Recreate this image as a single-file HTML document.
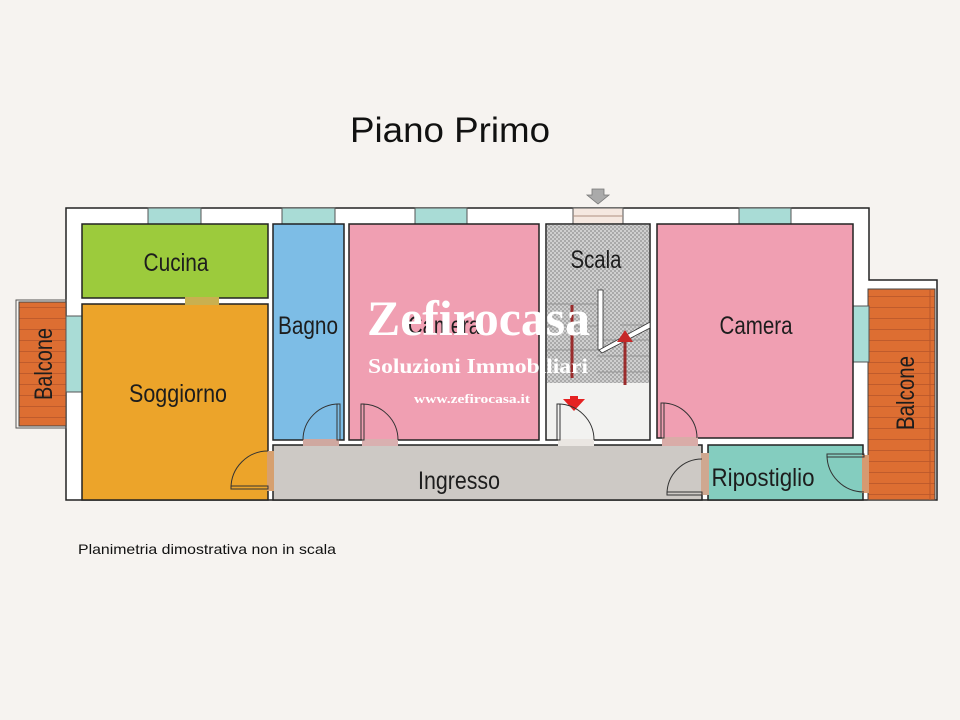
<!DOCTYPE html>
<html><head><meta charset="utf-8"><style>
html,body{margin:0;padding:0;background:#f6f3f0;}
svg{display:block}
</style></head><body>
<svg width="960" height="720" viewBox="0 0 960 720" xmlns="http://www.w3.org/2000/svg" font-family="Liberation Sans, sans-serif">
<defs>
<pattern id="chk" width="4" height="4" patternUnits="userSpaceOnUse">
<rect width="4" height="4" fill="#cfcfcf"/><rect width="2" height="2" fill="#a9a9a9"/><rect x="2" y="2" width="2" height="2" fill="#a9a9a9"/>
</pattern>
<pattern id="planks" width="10" height="11" patternUnits="userSpaceOnUse">
<rect width="10" height="11" fill="#dd6e32"/><line x1="0" y1="10.5" x2="10" y2="10.5" stroke="#b8562a" stroke-width="0.8"/>
</pattern>
</defs>
<rect width="960" height="720" fill="#f6f3f0"/>
<text x="350" y="142" font-size="35" fill="#111" textLength="200" lengthAdjust="spacingAndGlyphs">Piano Primo</text>

<path d="M66 208 H869 V280 H937 V500 H66 Z" fill="#fff" stroke="#222" stroke-width="1.5"/>
<rect x="16" y="300" width="50" height="128" fill="none" stroke="#555" stroke-width="1"/>
<rect x="19" y="302" width="47" height="124" fill="url(#planks)" stroke="#444" stroke-width="1"/>
<rect x="868" y="289" width="67" height="211" fill="url(#planks)" stroke="#444" stroke-width="1"/>
<line x1="930" y1="290" x2="930" y2="500" stroke="#b8562a"/>

<g fill="#a9dcd6" stroke="#555" stroke-width="1">
<rect x="148" y="208" width="53" height="16"/>
<rect x="282" y="208" width="53" height="16"/>
<rect x="415" y="208" width="52" height="16"/>
<rect x="739" y="208" width="52" height="16"/>
<rect x="66" y="316" width="16" height="76"/>
<rect x="853" y="306" width="16" height="56"/>
</g>
<rect x="573" y="208" width="50" height="16" fill="#f5e8e0" stroke="#555"/>
<line x1="573" y1="216" x2="623" y2="216" stroke="#b09080"/>
<path d="M592 189 h12 v6 h5 l-11 9 l-11 -9 h5 z" fill="#aaa" stroke="#777" stroke-width="0.8"/>

<g stroke="#222" stroke-width="1.5">
<rect x="82" y="224" width="186" height="74" fill="#9ccb3c"/>
<rect x="82" y="304" width="186" height="196" fill="#eca42a"/>
<rect x="273" y="224" width="71" height="216" fill="#7dbde6"/>
<rect x="349" y="224" width="190" height="216" fill="#f09fb2"/>
<rect x="546" y="224" width="104" height="216" fill="#f2f2f0"/>
<rect x="657" y="224" width="196" height="214" fill="#f09fb2"/>
<rect x="273" y="445" width="429" height="55" fill="#cdc9c5"/>
<rect x="708" y="445" width="155" height="55" fill="#84cdbf"/>
</g>
<rect x="185" y="297" width="34" height="8" fill="#c9b050"/>
<rect x="267" y="451" width="7" height="40" fill="#d6a070"/>
<rect x="303" y="439" width="36" height="7" fill="#cfa8a0"/>
<rect x="362" y="439" width="36" height="7" fill="#d9b0b0"/>
<rect x="558" y="439" width="36" height="7" fill="#eae6e2"/>
<rect x="662" y="437" width="36" height="9" fill="#d9aca8"/>
<rect x="701" y="453" width="8" height="42" fill="#cfa890"/>
<rect x="862" y="455" width="7" height="38" fill="#d69a70"/>

<rect x="547" y="225" width="102" height="158" fill="url(#chk)"/>
<g stroke="#888" stroke-width="0.8">
<line x1="547" y1="304" x2="597" y2="304"/><line x1="547" y1="326" x2="597" y2="326"/>
<line x1="547" y1="350" x2="597" y2="350"/><line x1="597" y1="340" x2="649" y2="340"/>
<line x1="597" y1="356" x2="649" y2="356"/><line x1="597" y1="372" x2="649" y2="372"/>
<line x1="620" y1="325" x2="649" y2="325"/>
</g>
<rect x="598" y="290" width="5" height="60" fill="#fff" stroke="#333" stroke-width="0.8"/>
<path d="M599 350 L650 322 L650 328 L602 353 Z" fill="#fff" stroke="#333" stroke-width="0.8"/>
<rect x="547" y="383" width="102" height="56" fill="#f2f2f0"/>
<line x1="572" y1="305" x2="572" y2="378" stroke="#9a2c2c" stroke-width="3"/>
<line x1="625" y1="340" x2="625" y2="385" stroke="#9a2c2c" stroke-width="3"/>
<path d="M617 342 L625 330 L633 342 Z" fill="#c62828"/>
<path d="M563 399 h22 l-11 12 z M570 396 h8 v4 h-8 z" fill="#e52222"/>

<g fill="none" stroke="#333" stroke-width="1">
<path d="M231 488 A37 37 0 0 1 268 451"/><rect x="231" y="486" width="37" height="3"/>
<path d="M303 440 A36 36 0 0 1 339 404"/><rect x="337" y="404" width="3" height="36"/>
<path d="M398 440 A36 36 0 0 0 362 404"/><rect x="361" y="404" width="3" height="36"/>
<path d="M594 440 A36 36 0 0 0 558 404"/><rect x="557" y="404" width="3" height="36"/>
<path d="M697 438 A35 35 0 0 0 662 403"/><rect x="661" y="403" width="3" height="35"/>
<path d="M667 494 A35 35 0 0 1 702 459"/><rect x="667" y="492" width="35" height="3"/>
<path d="M827 455 A37 37 0 0 0 864 492"/><rect x="827" y="454" width="37" height="3"/>
</g>

<g font-size="25" fill="#1d1d1d">
<text x="176" y="271" text-anchor="middle" textLength="65" lengthAdjust="spacingAndGlyphs">Cucina</text>
<text x="178" y="402" text-anchor="middle" textLength="98" lengthAdjust="spacingAndGlyphs">Soggiorno</text>
<text x="308" y="334" text-anchor="middle" textLength="60" lengthAdjust="spacingAndGlyphs">Bagno</text>
<text x="444" y="334" text-anchor="middle" textLength="72" lengthAdjust="spacingAndGlyphs">Camera</text>
<text x="596" y="268" text-anchor="middle" textLength="51" lengthAdjust="spacingAndGlyphs">Scala</text>
<text x="756" y="334" text-anchor="middle" textLength="73" lengthAdjust="spacingAndGlyphs">Camera</text>
<text x="459" y="489" text-anchor="middle" textLength="82" lengthAdjust="spacingAndGlyphs">Ingresso</text>
<text x="763" y="486" text-anchor="middle" textLength="103" lengthAdjust="spacingAndGlyphs">Ripostiglio</text>
<text transform="translate(52 364) rotate(-90)" text-anchor="middle" textLength="72" lengthAdjust="spacingAndGlyphs">Balcone</text>
<text transform="translate(914 393) rotate(-90)" text-anchor="middle" textLength="74" lengthAdjust="spacingAndGlyphs">Balcone</text>
</g>

<g fill="#fff" font-family="Liberation Serif, serif" font-weight="bold">
<text x="367" y="335" font-size="50" textLength="223" lengthAdjust="spacingAndGlyphs">Zefirocasa</text>
<text x="368" y="373" font-size="21" textLength="220" lengthAdjust="spacingAndGlyphs">Soluzioni Immobiliari</text>
<text x="414" y="403" font-size="13" textLength="116" lengthAdjust="spacingAndGlyphs">www.zefirocasa.it</text>
</g>

<text x="78" y="554" font-size="14" fill="#111" textLength="258" lengthAdjust="spacingAndGlyphs">Planimetria dimostrativa non in scala</text>
</svg>
</body></html>
